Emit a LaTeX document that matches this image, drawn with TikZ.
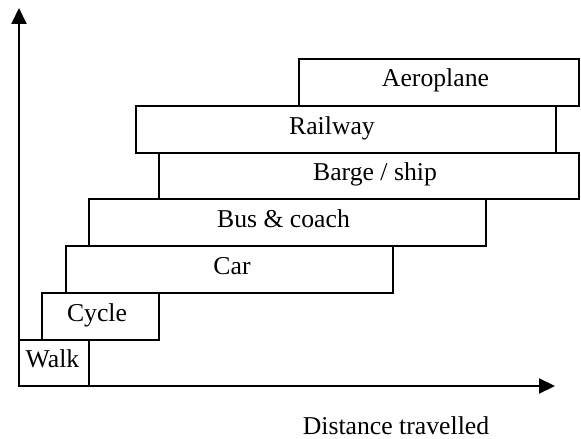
\documentclass[tikz,border=0pt]{standalone}
\usepackage{fontspec}
\setmainfont{Liberation Serif}
\usepackage{tikz}
\usetikzlibrary{arrows.meta}

\begin{document}
\begin{tikzpicture}[
  x=0.5pt, y=-0.5pt,
  font=\fontsize{12.85}{15}\selectfont,
  box/.style={draw, line width=0.6pt},
  lbl/.style={anchor=base, inner sep=0pt},
  axis/.style={line width=1pt, -{Triangle[length=8pt, width=7.5pt]}}]
  \useasboundingbox (0,0) rectangle (581,438);
  % --- axes ---
  \coordinate (o)  at (19,386);
  \coordinate (yt) at (19,8);
  \coordinate (xt) at (555,386);
  % --- modes (left, top) rectangle (right, bottom) ---
  \draw[box] (19,340)  rectangle (89,386);
  \draw[box] (42,293)  rectangle (159,340);
  \draw[box] (66,246)  rectangle (393,293);
  \draw[box] (89,199)  rectangle (486,246);
  \draw[box] (159,153) rectangle (579,199);
  \draw[box] (136,106) rectangle (556,153);
  \draw[box] (299,59)  rectangle (579,106);
  \node[lbl] (walk)  at (52.5,367) {Walk};
  \node[lbl] (cycle) at (97,321)   {Cycle};
  \node[lbl] (car)   at (232,274)  {Car};
  \node[lbl] (bus)   at (283.5,227) {Bus \& coach};
  \node[lbl] (barge) at (375,180)  {Barge / ship};
  \node[lbl] (rail)  at (332,134)  {Railway};
  \node[lbl] (air)   at (435.5,87) {Aeroplane};
  \draw[axis] (o) -- (yt);
  \draw[axis] (o) -- (xt);
  \node[lbl] (dist) at (396,434) {Distance travelled};
\end{tikzpicture}
\end{document}
